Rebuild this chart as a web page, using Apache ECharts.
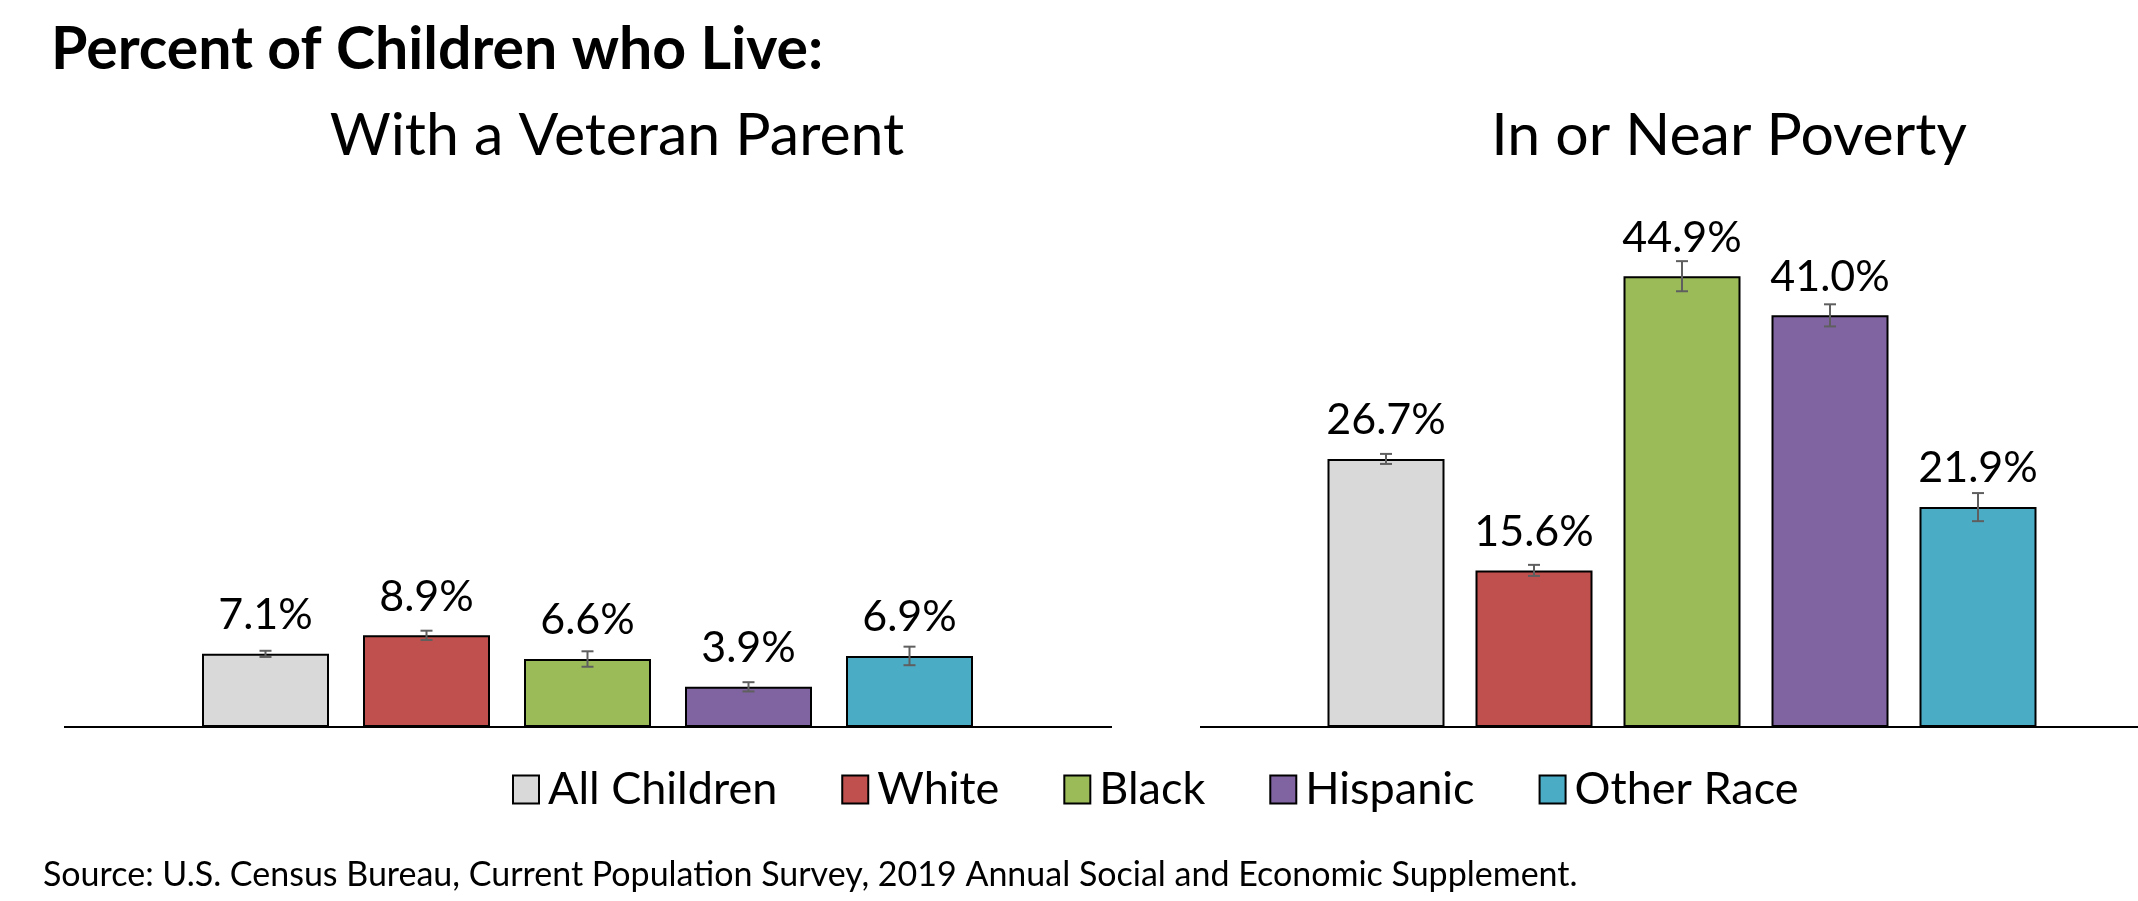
<!DOCTYPE html>
<html><head><meta charset="utf-8">
<script src="https://cdn.jsdelivr.net/npm/echarts@6/dist/echarts.min.js"></script>
<style>html,body{margin:0;padding:0;background:#fff}#c{width:2138px;height:901px}</style>
</head><body><div id="c"></div>
<script>
const categories = ['All Children', 'White', 'Black', 'Hispanic', 'Other Race'];
const veteranValues = [7.1, 8.9, 6.6, 3.9, 6.9];
const veteranErrors = [0.3, 0.45, 0.75, 0.45, 0.9];
const povertyValues = [26.7, 15.6, 44.9, 41.0, 21.9];
const povertyErrors = [0.5, 0.55, 1.5, 1.1, 1.4];
const mainTitle = 'Percent of Children who Live:';
const leftTitle = 'With a Veteran Parent';
const rightTitle = 'In or Near Poverty';
const sourceNote = 'Source: U.S. Census Bureau, Current Population Survey, 2019 Annual Social and Economic Supplement.';
const palette = ['#D9D9D9', '#C0504D', '#9BBB59', '#8064A2', '#4BACC6'];

const FONT = 'Lato';
const chart = echarts.init(document.getElementById('c'), null, {renderer: 'canvas'});

function barSeries(values, gridIdx, barWidth) {
  return categories.map((name, i) => ({
    name: name,
    type: 'bar',
    xAxisIndex: gridIdx, yAxisIndex: gridIdx,
    barWidth: barWidth,
    barGap: '-100%',
    data: values.map((v, j) => j === i ? v : '-'),
    itemStyle: {color: palette[i], borderColor: '#000', borderWidth: 2},
    label: {
      show: true, position: 'top', distance: 17,
      formatter: p => p.value.toFixed(1) + '%',
      fontFamily: FONT, fontSize: 43, color: '#000', lineHeight: 43
    },
    z: 2
  }));
}

function errorSeries(values, errors, gridIdx) {
  return {
    type: 'custom',
    xAxisIndex: gridIdx, yAxisIndex: gridIdx,
    z: 5, silent: true,
    data: values.map((v, i) => [i, v - errors[i], v + errors[i]]),
    renderItem: function (params, api) {
      const lo = api.coord([api.value(0), api.value(1)]);
      const hi = api.coord([api.value(0), api.value(2)]);
      const hw = 6;
      const st = {stroke: '#5f5f5f', lineWidth: 2};
      return {
        type: 'group',
        children: [
          {type: 'line', shape: {x1: lo[0], y1: lo[1], x2: hi[0], y2: hi[1]}, style: st},
          {type: 'line', shape: {x1: lo[0] - hw, y1: lo[1], x2: lo[0] + hw, y2: lo[1]}, style: st},
          {type: 'line', shape: {x1: hi[0] - hw, y1: hi[1], x2: hi[0] + hw, y2: hi[1]}, style: st}
        ]
      };
    }
  };
}

const axisY = 727;
const option = {
  backgroundColor: '#fff',
  animation: false,
  textStyle: {fontFamily: FONT},
  title: [
    {text: mainTitle, left: 46, top: 15, textStyle: {fontFamily: FONT, fontWeight: 'bold', fontSize: 59, color: '#000'}},
    {text: leftTitle, left: 612, top: 101, textAlign: 'center', textStyle: {fontFamily: FONT, fontWeight: 'normal', fontSize: 59, color: '#000'}},
    {text: rightTitle, left: 1724, top: 101, textAlign: 'center', textStyle: {fontFamily: FONT, fontWeight: 'normal', fontSize: 59, color: '#000'}},
    {text: sourceNote, left: 38, top: 853, textStyle: {fontFamily: FONT, fontWeight: 'normal', fontSize: 34, color: '#000'}}
  ],
  legend: {
    data: categories,
    left: 507, top: 762,
    itemWidth: 26, itemHeight: 28, itemGap: 64,
    icon: 'rect',
    textStyle: {fontFamily: FONT, fontSize: 45, color: '#000', padding: [0, 0, 0, 4]},
    selectedMode: false
  },
  grid: [
    {left: 185, width: 805, top: axisY - 515, height: 515},
    {left: 1312, width: 740, top: axisY - 502, height: 502}
  ],
  xAxis: [0, 1].map(g => ({
    type: 'category', gridIndex: g, data: categories,
    axisLine: {show: false}, axisTick: {show: false}, axisLabel: {show: false}
  })),
  yAxis: [0, 1].map(g => ({
    type: 'value', gridIndex: g, min: 0, max: 50,
    show: false, splitLine: {show: false}
  })),
  graphic: [
    {type: 'line', shape: {x1: 64, y1: axisY, x2: 1112, y2: axisY}, style: {stroke: '#000', lineWidth: 2}, z: 1},
    {type: 'line', shape: {x1: 1200, y1: axisY, x2: 2138, y2: axisY}, style: {stroke: '#000', lineWidth: 2}, z: 1}
  ],
  series: [
    ...barSeries(veteranValues, 0, 127),
    ...barSeries(povertyValues, 1, 117),
    errorSeries(veteranValues, veteranErrors, 0),
    errorSeries(povertyValues, povertyErrors, 1)
  ]
};
chart.setOption(option);
</script>
</body></html>
